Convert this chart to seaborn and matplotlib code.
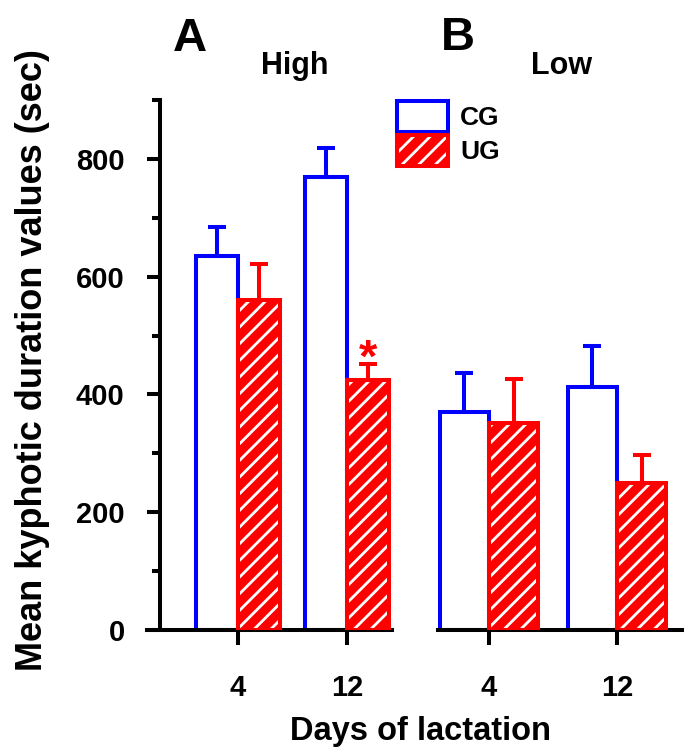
import matplotlib
matplotlib.use("Agg")
import matplotlib.pyplot as plt
import seaborn as sns
import pandas as pd
from matplotlib.patches import Patch, Rectangle
from matplotlib.legend_handler import HandlerTuple
from matplotlib.ticker import MultipleLocator

sns.set_style("ticks")
plt.rcParams["font.family"] = ["Liberation Sans", "DejaVu Sans"]
plt.rcParams["font.weight"] = "bold"
plt.rcParams["hatch.linewidth"] = 2.0
for k in ("text.color", "axes.labelcolor", "xtick.color", "ytick.color", "axes.edgecolor"):
    plt.rcParams[k] = "black"

# ---- data ----
days = ["4", "12"]
groups = ["CG", "UG"]
high_cg = [635, 770]
high_cg_err = [49, 49]
high_ug = [560, 424]
high_ug_err = [61, 27]
low_cg = [371, 412]
low_cg_err = [66, 71]
low_ug = [351, 250]
low_ug_err = [75, 48]

BLUE = "#0000ff"
RED = "#ff0000"
LW = 2.9

W, H = 684, 747
fig = plt.figure(figsize=(W / 100, H / 100), dpi=100)


def frac_rect(left_px, right_px, top_px, bottom_px):
    return [left_px / W, 1 - bottom_px / H, (right_px - left_px) / W, (bottom_px - top_px) / H]


def panel(ax, cg, cg_err, ug, ug_err):
    df = pd.DataFrame({
        "day": days * 2,
        "group": [groups[0]] * 2 + [groups[1]] * 2,
        "value": cg + ug,
    })
    sns.barplot(data=df, x="day", y="value", hue="group", order=days, hue_order=groups,
                palette={"CG": "white", "UG": RED}, errorbar=None, width=0.77,
                legend=False, ax=ax, zorder=2)
    cont_cg, cont_ug = ax.containers[0], ax.containers[1]
    for p in cont_cg:
        p.set_facecolor("white")
        p.set_edgecolor(BLUE)
        p.set_linewidth(LW)
    for p in cont_ug:
        p.set_facecolor(RED)
        p.set_edgecolor("white")
        p.set_hatch("//")
        p.set_linewidth(0)
        ax.add_patch(Rectangle((p.get_x(), p.get_y()), p.get_width(), p.get_height(),
                               fill=False, edgecolor=RED, linewidth=LW, zorder=3))
    for cont, err, col in ((cont_cg, cg_err, BLUE), (cont_ug, ug_err, RED)):
        xs = [p.get_x() + p.get_width() / 2 for p in cont]
        ys = [p.get_height() for p in cont]
        ax.errorbar(xs, ys, yerr=[[0] * len(err), err], fmt="none", ecolor=col,
                    elinewidth=LW, capsize=6.5, capthick=LW, zorder=4)
    ax.set_ylim(0, 900)
    ax.set_xlabel("")
    ax.set_ylabel("")
    ax.spines["top"].set_visible(False)
    ax.spines["right"].set_visible(False)
    ax.spines["bottom"].set_linewidth(LW)
    ax.tick_params(axis="x", direction="out", length=10.8, width=LW, pad=21,
                   labelsize=21, color="black")
    ax.set_facecolor("none")
    return cont_ug


# Panel A (High)
axA = fig.add_axes(frac_rect(147, 392, 100, 630))
cont_ugA = panel(axA, high_cg, high_cg_err, high_ug, high_ug_err)
axA.set_xlim((147 - 238) / 109, (392 - 238) / 109)
axA.spines["left"].set_position(("data", (160 - 238) / 109))
axA.spines["left"].set_linewidth(LW)
axA.yaxis.set_major_locator(MultipleLocator(200))
axA.yaxis.set_minor_locator(MultipleLocator(100))
axA.tick_params(axis="y", which="major", direction="out", length=9.4, width=LW, pad=16,
                labelsize=21)
axA.tick_params(axis="y", which="minor", direction="out", length=5.8, width=LW)

# significance marker above UG day 12
p12 = list(cont_ugA)[1]
axA.text(p12.get_x() + p12.get_width() / 2, 438, "*", color=RED, fontsize=34,
         ha="center", va="baseline", fontweight="bold")

# Panel B (Low)
axB = fig.add_axes(frac_rect(438, 700, 100, 630))
panel(axB, low_cg, low_cg_err, low_ug, low_ug_err)
axB.set_xlim((438 - 489) / 128, (700 - 489) / 128)
axB.spines["left"].set_visible(False)
axB.set_yticks([])
axB.tick_params(axis="y", left=False)

# Texts
fig.text(190 / W, 1 - 51 / H, "A", fontsize=34, fontweight="bold", ha="center", va="baseline")
fig.text(458 / W, 1 - 50 / H, "B", fontsize=34, fontweight="bold", ha="center", va="baseline")
fig.text(295 / W, 1 - 74 / H, "High", fontsize=22, fontweight="bold", ha="center", va="baseline")
fig.text(562 / W, 1 - 74 / H, "Low", fontsize=22, fontweight="bold", ha="center", va="baseline")
fig.text(33 / W, 1 - 360 / H, "Mean kyphotic duration values (sec)", fontsize=26,
         fontweight="bold", rotation=90, ha="center", va="center")
fig.text(420 / W, 1 - 740 / H, "Days of lactation", fontsize=23.5, fontweight="bold",
         ha="center", va="baseline")

# Legend
h_cg = Patch(facecolor="white", edgecolor=BLUE, linewidth=LW)
h_ug = (Patch(facecolor=RED, edgecolor="white", hatch="//", linewidth=0),
        Patch(facecolor="none", edgecolor=RED, linewidth=LW))
fig.legend([h_cg, h_ug], groups, loc="upper left",
           bbox_to_anchor=(397 / W, 1 - 101 / H), frameon=False, fontsize=19,
           handlelength=1.95, handleheight=1.45, labelspacing=0.1, handletextpad=0.45,
           borderpad=0, borderaxespad=0,
           handler_map={tuple: HandlerTuple(ndivide=1, pad=0)})

fig.savefig("out.png", dpi=100)
